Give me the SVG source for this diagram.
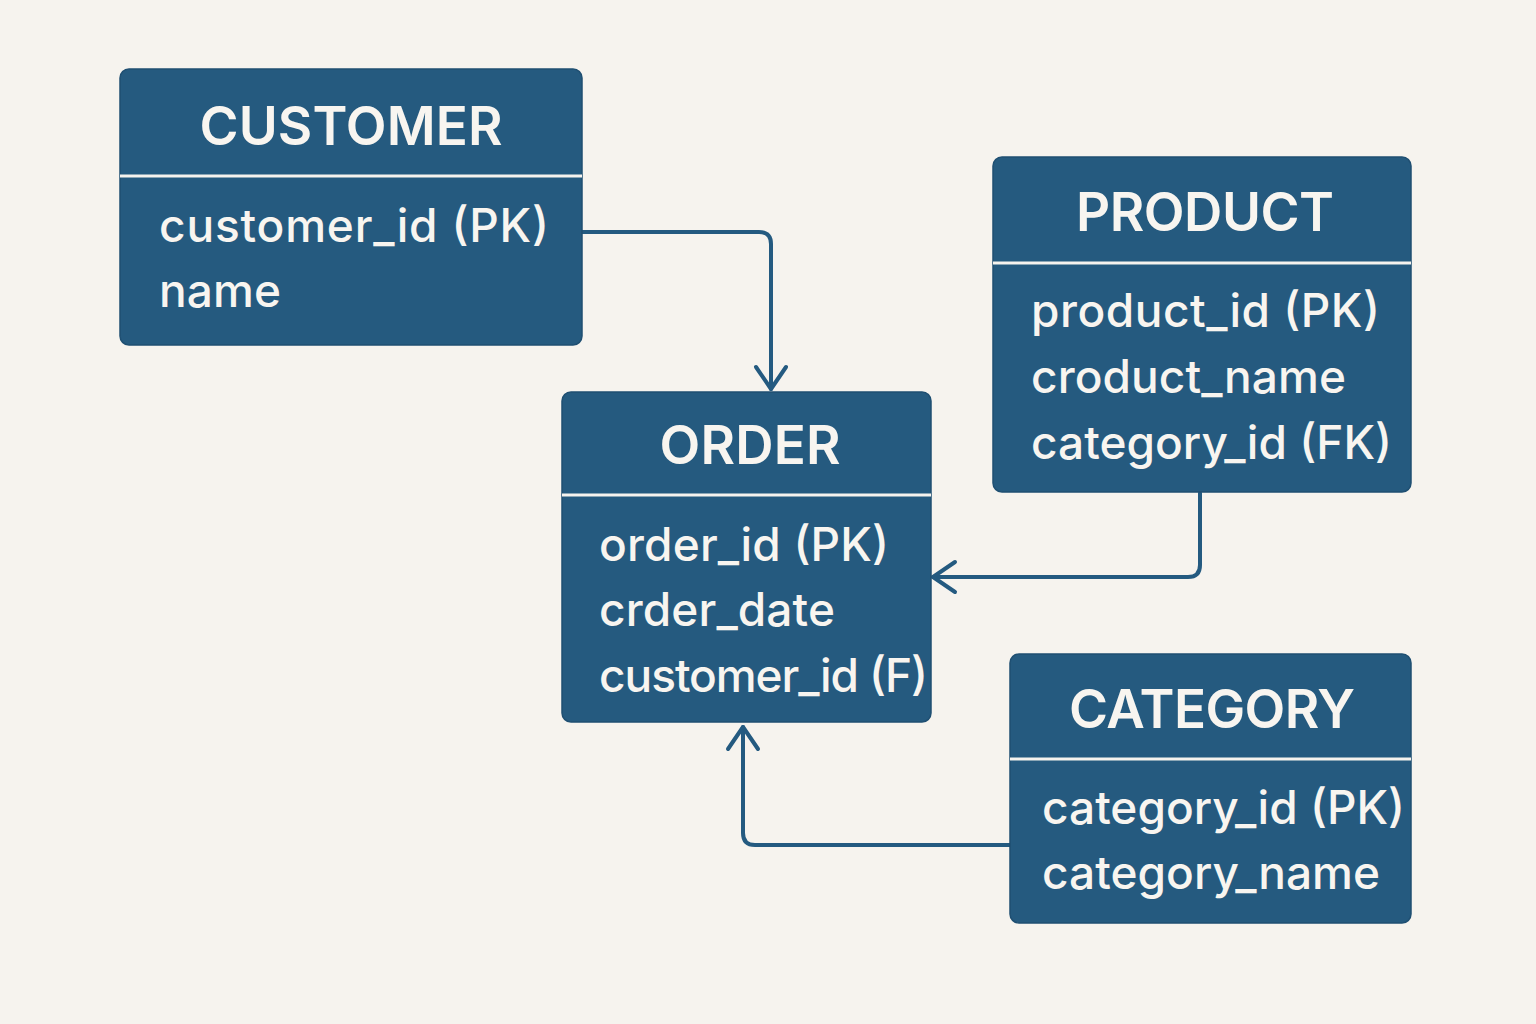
<svg xmlns="http://www.w3.org/2000/svg" width="1536" height="1024" viewBox="0 0 1536 1024">
<defs>
<style>
.box{fill:#255a7f;stroke:#1f4f72;stroke-width:1.5}
.div{stroke:#f6f3ee;stroke-width:3}
.title{font-family:Inter,"Liberation Sans",sans-serif;font-size:53px;font-weight:600;fill:#f8f5f0;text-anchor:middle}
.field{font-family:Inter,"Liberation Sans",sans-serif;font-size:46px;font-weight:500;fill:#f8f5f0}
.conn{fill:none;stroke:#245a80;stroke-width:4;stroke-linecap:round;stroke-linejoin:round}
</style>
<marker id="arr" viewBox="0 0 28 36" refX="25" refY="18" markerWidth="28" markerHeight="36" markerUnits="userSpaceOnUse" orient="auto">
<path d="M3 3 L25 18 L3 33" fill="none" stroke="#245a80" stroke-width="4" stroke-linecap="round" stroke-linejoin="round"/>
</marker>
</defs>
<rect width="1536" height="1024" fill="#f6f3ee"/>
<g id="connectors">
<path class="conn" d="M582 232 H759 Q771 232 771 244 V389" marker-end="url(#arr)"/>
<path class="conn" d="M1200 493 V565 Q1200 577 1188 577 H933" marker-end="url(#arr)"/>
<path class="conn" d="M1010 845 H755 Q743 845 743 833 V727" marker-end="url(#arr)"/>
</g>
<g id="customer">
<rect class="box" x="120" y="69" width="462" height="276" rx="9"/>
<line class="div" x1="120" y1="176" x2="582" y2="176"/>
<text class="title" x="351" y="145" textLength="303">CUSTOMER</text>
<text class="field" x="159" y="242" textLength="390">customer_id (PK)</text>
<text class="field" x="159" y="307" textLength="122">name</text>
</g>
<g id="product">
<rect class="box" x="993" y="157" width="418" height="335" rx="9"/>
<line class="div" x1="993" y1="263" x2="1411" y2="263"/>
<text class="title" x="1205" y="231" textLength="258">PRODUCT</text>
<text class="field" x="1031" y="327" textLength="349">product_id (PK)</text>
<text class="field" x="1031" y="393" textLength="315">croduct_name</text>
<text class="field" x="1031" y="459" textLength="361">category_id (FK)</text>
</g>
<g id="order">
<rect class="box" x="562" y="392" width="369" height="330" rx="9"/>
<line class="div" x1="562" y1="495" x2="931" y2="495"/>
<text class="title" x="750" y="464" textLength="181">ORDER</text>
<text class="field" x="599" y="561" textLength="290">order_id (PK)</text>
<text class="field" x="599" y="626" textLength="236">crder_date</text>
<text class="field" x="599" y="692" textLength="329">customer_id (F)</text>
</g>
<g id="category">
<rect class="box" x="1010" y="654" width="401" height="269" rx="9"/>
<line class="div" x1="1010" y1="759" x2="1411" y2="759"/>
<text class="title" x="1212" y="728" textLength="286">CATEGORY</text>
<text class="field" x="1042" y="824" textLength="363">category_id (PK)</text>
<text class="field" x="1042" y="889" textLength="338">category_name</text>
</g>
</svg>
